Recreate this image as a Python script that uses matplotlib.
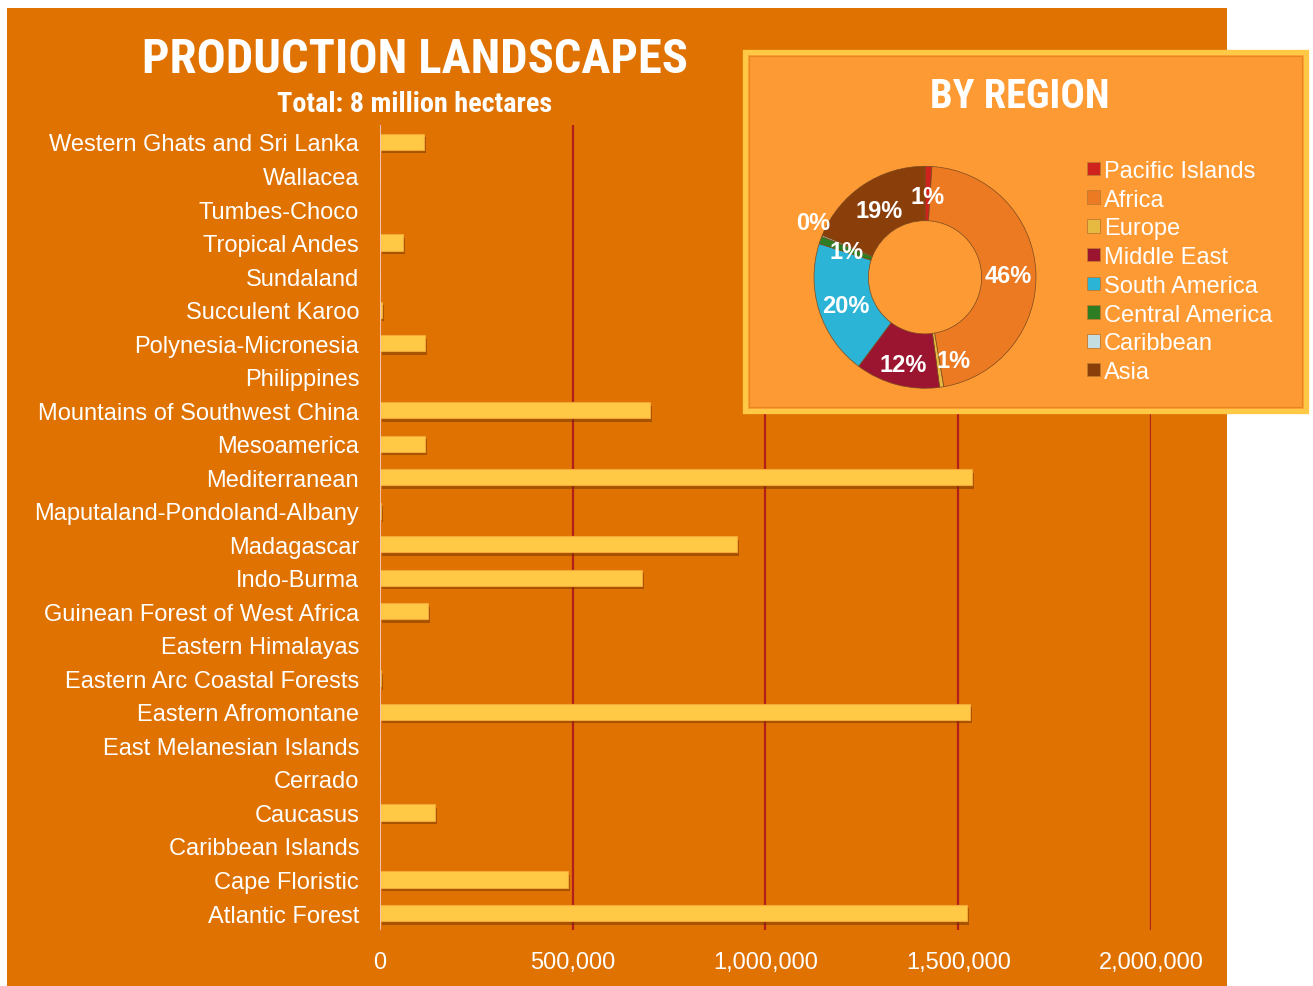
import matplotlib
matplotlib.use("Agg")
import matplotlib.pyplot as plt
from matplotlib import font_manager as fm
from matplotlib.patches import Rectangle
import matplotlib.patheffects as pe
import numpy as np

# ---------------- data ----------------
landscapes = ["Western Ghats and Sri Lanka", "Wallacea", "Tumbes-Choco", "Tropical Andes",
              "Sundaland", "Succulent Karoo", "Polynesia-Micronesia", "Philippines",
              "Mountains of Southwest China", "Mesoamerica", "Mediterranean",
              "Maputaland-Pondoland-Albany", "Madagascar", "Indo-Burma",
              "Guinean Forest of West Africa", "Eastern Himalayas", "Eastern Arc Coastal Forests",
              "Eastern Afromontane", "East Melanesian Islands", "Cerrado", "Caucasus",
              "Caribbean Islands", "Cape Floristic", "Atlantic Forest"]
hectares = [115000, 0, 0, 60000, 0, 6000, 117000, 0, 700000, 117000, 1536000, 1500,
            925000, 680000, 125000, 0, 3000, 1530000, 0, 0, 143000, 0, 487000, 1522000]
x_ticks = [0, 500000, 1000000, 1500000, 2000000]

regions = ["Pacific Islands", "Africa", "Europe", "Middle East", "South America",
           "Central America", "Caribbean", "Asia"]
region_share = [1.0, 46.3, 0.6, 12.3, 19.7, 1.1, 0.2, 18.8]
region_colors = ["#D0221C", "#EC7A22", "#E6B940", "#9C1530", "#2BB4D6", "#2E7D22",
                 "#C4DDE2", "#8A3E0A"]

title = "PRODUCTION LANDSCAPES"
subtitle = "Total: 8 million hectares"
donut_title = "BY REGION"

# ---------------- fonts ----------------
def find_narrow_bold():
    prefs = ["Liberation Sans Narrow", "Arial Narrow", "Roboto Condensed", "DejaVu Sans Condensed"]
    ents = fm.fontManager.ttflist
    def wt(e):
        w = e.weight
        if isinstance(w, str):
            w = {"bold": 700, "heavy": 800, "black": 900, "semibold": 600, "demibold": 600}.get(w, 400)
        return w
    for p in prefs:
        for e in ents:
            if e.name == p and wt(e) >= 600 and e.style == "normal":
                return e.fname
    for e in ents:
        fn = e.fname.lower()
        if ("narrow" in fn or "condensed" in fn) and "bold" in fn and "italic" not in fn and "oblique" not in fn:
            return e.fname
    return None

narrow_path = find_narrow_bold()
if narrow_path:
    head_fp = fm.FontProperties(fname=narrow_path)
else:
    head_fp = fm.FontProperties(family="Liberation Sans", weight="bold")

BASE = "Liberation Sans"
plt.rcParams["font.family"] = [BASE, "DejaVu Sans"]

W, H = 1313, 987
fig = plt.figure(figsize=(W / 100, H / 100), dpi=100, facecolor="white")

def fx(px):
    return px / W

def fy(py):
    return 1 - py / H

PANEL = "#DF7200"
fig.add_artist(Rectangle((fx(7), 0), fx(1227) - fx(7), fy(9), transform=fig.transFigure,
                         facecolor=PANEL, edgecolor="none", zorder=-5))

# ---------------- bar chart ----------------
ax = fig.add_axes([fx(380), fy(930.8), fx(1151) - fx(380), (930.8 - 126.2) / H])
ax.set_facecolor("none")
ax.set_zorder(1)
ypos = np.arange(len(landscapes))
bars = ax.barh(ypos, hectares, height=0.48, color="#FFC845", edgecolor="#F2A93A",
               linewidth=0.8, zorder=3)
for b in bars:
    b.set_path_effects([pe.SimplePatchShadow(offset=(1.5, -2.5), shadow_rgbFace="#6E3300", alpha=0.5),
                        pe.Normal()])
ax.set_ylim(len(landscapes) - 0.5, -0.5)
ax.set_xlim(0, 2000000)
ax.set_xticks(x_ticks)
ax.set_xticklabels([f"{v:,}" for v in x_ticks])
ax.set_yticks(ypos)
ax.set_yticklabels(landscapes)
ax.tick_params(axis="both", length=0, colors="white", labelsize=17)
ax.tick_params(axis="y", pad=15)
ax.tick_params(axis="x", pad=15.5)
for s in ax.spines.values():
    s.set_visible(False)
for v in x_ticks[1:]:
    ax.axvline(v, color="#B3201C", lw=1.6, zorder=1)
ax.axvline(0, color="#F6C9C2", lw=1.3, zorder=4)

# ---------------- titles ----------------
def fit_text(t, target_w):
    r = fig.canvas.get_renderer()
    w = t.get_window_extent(r).width
    t.set_fontsize(t.get_fontsize() * target_w / w)

t1 = fig.text(fx(415), fy(60), title, fontproperties=head_fp, fontsize=36, color="white",
              ha="center", va="center", zorder=6)
t2 = fig.text(fx(415), fy(104), subtitle, fontproperties=head_fp, fontsize=20, color="white",
              ha="center", va="center", zorder=6)

# ---------------- donut box ----------------
fig.add_artist(Rectangle((fx(745), fy(412)), fx(1306) - fx(745), fy(53) - fy(412),
                         transform=fig.transFigure, facecolor="#FD9A33", edgecolor="#FFC845",
                         lw=3.8, zorder=2))
fig.add_artist(Rectangle((fx(749), fy(408)), fx(1302) - fx(749), fy(57) - fy(408),
                         transform=fig.transFigure, facecolor="none", edgecolor="#E8861E",
                         lw=0.8, zorder=2))
t3 = fig.text(fx(1020), fy(97.5), donut_title, fontproperties=head_fp, fontsize=28, color="white",
              ha="center", va="center", zorder=6)

fig.canvas.draw()
fit_text(t1, 546)
fit_text(t2, 274)
fit_text(t3, 180)

# donut
cx, cy, R = 925, 278.3, 111
half = 1.25 * R
dax = fig.add_axes([fx(cx - half), fy(cy + half), 2 * half / W, 2 * half / H])
dax.set_zorder(3)
dax.set_facecolor("none")
wedges, _ = dax.pie(region_share, colors=region_colors, startangle=90, counterclock=False,
                    radius=1.0, wedgeprops=dict(width=0.49, edgecolor="#7A4A20", linewidth=0.5))
dax.set_xlim(-1.25, 1.25)
dax.set_ylim(-1.25, 1.25)
dax.set_aspect("equal")
dax.axis("off")

total = sum(region_share)
cum = np.cumsum([0] + region_share[:-1])
label_adjust = {2: (-11, 0.77), 3: (0, 0.79), 6: (5, 1.13)}
for i, share in enumerate(region_share):
    mid = (cum[i] + share / 2) / total * 360.0
    dang, r = label_adjust.get(i, (0, 0.75))
    ang = np.deg2rad(90 - (mid + dang))
    dax.text(r * np.cos(ang), r * np.sin(ang), f"{share:.0f}%", ha="center", va="center_baseline",
             color="white", fontsize=17, fontweight="bold", zorder=5)

# legend (manual)
for i, (name, col) in enumerate(zip(regions, region_colors)):
    yy = 169.5 + i * 28.75
    fig.add_artist(Rectangle((fx(1086.5), fy(yy + 6.5)), 13.5 / W, 13.5 / H, transform=fig.transFigure,
                             facecolor=col, edgecolor="#C07A30", lw=0.6, zorder=6))
    fig.text(fx(1104), fy(yy), name, color="white", fontsize=17, ha="left", va="center_baseline",
             zorder=6)

fig.savefig("out.png", dpi=100, facecolor="white")
